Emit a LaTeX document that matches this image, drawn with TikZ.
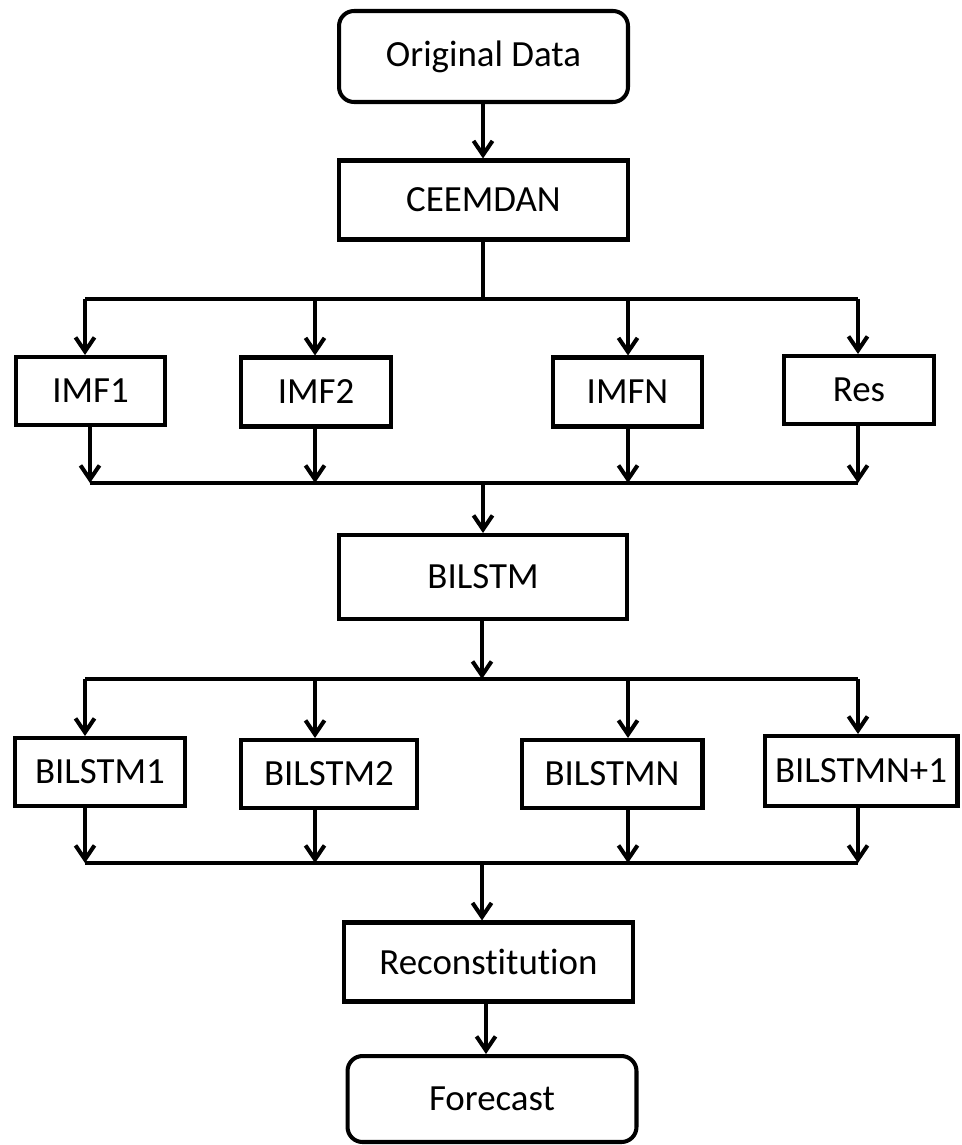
\documentclass[tikz,border=0pt]{standalone}
\usepackage{fontspec}
\setmainfont{Carlito}[Ligatures=CommonOff]
\usepackage{tikz}
\usetikzlibrary{arrows.meta,positioning,calc}

\begin{document}
\begin{tikzpicture}[x=0.02cm,y=-0.02cm,line width=2.3pt,>={Straight Barb[length=2.8mm,width=3.8mm]},
  font=\fontsize{21}{25}\selectfont]
\tikzstyle{block} = [draw = black, rectangle, inner sep = 0pt, align = center]
\tikzstyle{term} = [block, rounded corners = 0.3cm]
\useasboundingbox (0,0) rectangle (962,1145);

% main column
\node[term, minimum width = 5.78cm, minimum height = 1.82cm]  (orig)    at (483.5,56.5) {Original Data};
\node[block, minimum width = 5.78cm, minimum height = 1.58cm] (ceemdan) at (483.5,200)  {CEEMDAN};
\node[block, minimum width = 5.76cm, minimum height = 1.68cm] (bilstm)  at (483,577)    {BILSTM};
\node[block, minimum width = 5.78cm, minimum height = 1.58cm] (recon)   at (488.5,962)  {Reconstitution};
\node[term, minimum width = 5.78cm, minimum height = 1.72cm]  (fore)    at (492,1099)   {Forecast};

% decomposition
\node[block, minimum width = 2.98cm, minimum height = 1.36cm] (imf1) at (90.5,391)  {IMF1};
\node[block, minimum width = 3.0cm,  minimum height = 1.38cm] (imf2) at (316,392)   {IMF2};
\node[block, minimum width = 2.98cm, minimum height = 1.38cm] (imfn) at (627.5,392) {IMFN};
\node[block, minimum width = 3.0cm,  minimum height = 1.36cm] (res)  at (859,390)   {Res};

% sub-models
\node[block, minimum width = 3.4cm,  minimum height = 1.36cm] (bl1)  at (100,772)   {BILSTM1};
\node[block, minimum width = 3.52cm, minimum height = 1.36cm] (bl2)  at (329,774)   {BILSTM2};
\node[block, minimum width = 3.62cm, minimum height = 1.36cm] (bln)  at (612,774)   {BILSTMN};
\node[block, minimum width = 3.86cm, minimum height = 1.4cm]  (blnn) at (861,771)   {BILSTMN+1};

% columns and bus lines
\coordinate (c1) at (85,0);
\coordinate (c2) at (315,0);
\coordinate (c3) at (628,0);
\coordinate (c4) at (858,0);
\coordinate (split1) at (483,299);
\coordinate (join1)  at (483,483);
\coordinate (split2) at (482,679);
\coordinate (join2)  at (482,863);

\draw[->] (orig.south -| split1) -- (split1 |- ceemdan.north);
\draw (ceemdan.south -| split1) -- (split1);
\draw (c1 |- split1) -- (c4 |- split1);
\path[->]
(c1 |- split1) edge (c1 |- imf1.north)
(c2 |- split1) edge (c2 |- imf2.north)
(c3 |- split1) edge (c3 |- imfn.north)
(c4 |- split1) edge (c4 |- res.north);
\path[->]
(imf1.south -| 90,0) edge (90,483)
(c2 |- imf2.south) edge (c2 |- join1)
(c3 |- imfn.south) edge (c3 |- join1)
(c4 |- res.south)  edge (c4 |- join1);
\draw (90,483) -- (c4 |- join1);
\draw[->] (join1) -- (join1 |- bilstm.north);

\draw[->] (bilstm.south -| split2) -- (split2);
\draw (c1 |- split2) -- (c4 |- split2);
\path[->]
(c1 |- split2) edge (c1 |- bl1.north)
(c2 |- split2) edge (c2 |- bl2.north)
(c3 |- split2) edge (c3 |- bln.north)
(c4 |- split2) edge (c4 |- blnn.north);
\path[->]
(c1 |- bl1.south)  edge (c1 |- join2)
(c2 |- bl2.south)  edge (c2 |- join2)
(c3 |- bln.south)  edge (c3 |- join2)
(c4 |- blnn.south) edge (c4 |- join2);
\draw (c1 |- join2) -- (c4 |- join2);
\draw[->] (join2) -- (join2 |- recon.north);
\draw[->] (recon.south -| 486,0) -- (486,0 |- fore.north);
\end{tikzpicture}
\end{document}
